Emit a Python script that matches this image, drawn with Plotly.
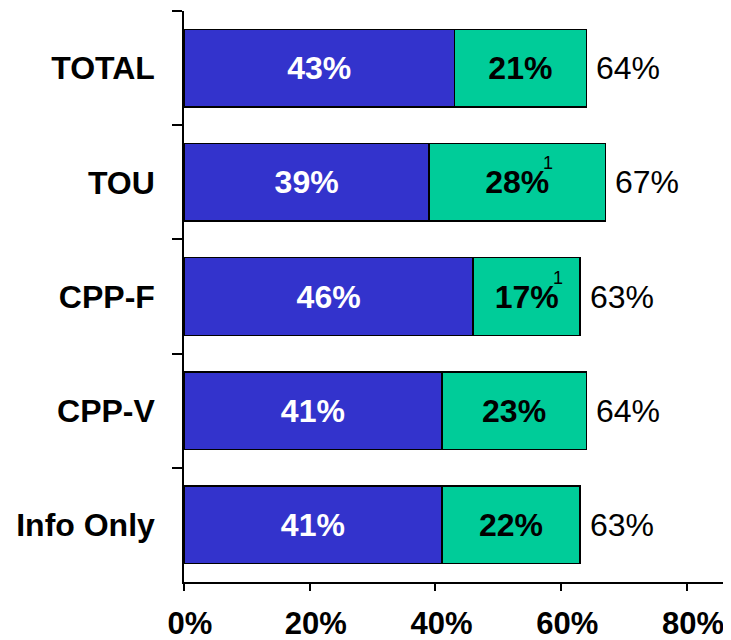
import plotly.graph_objects as go

categories = ["TOTAL", "TOU", "CPP-F", "CPP-V", "Info Only"]
blue_vals = [43, 39, 46, 41, 41]
green_vals = [21, 28, 17, 23, 22]
totals = [64, 67, 63, 64, 63]
footnotes = ["", "1", "1", "", ""]
x_ticks = [0, 20, 40, 60, 80]
x_tick_labels = ["0%", "20%", "40%", "60%", "80%"]

FONT = "Liberation Sans, Arial, sans-serif"
BLUE = "#3333CC"
GREEN = "#00CC99"

fig = go.Figure()
fig.add_trace(go.Bar(
    y=categories, x=blue_vals, orientation="h",
    marker=dict(color=BLUE, line=dict(color="black", width=1.5)),
    text=[f"{v}%" for v in blue_vals], textposition="inside",
    insidetextanchor="middle", constraintext="none",
    textfont=dict(family=FONT, size=32, color="white", weight="bold"),
    hoverinfo="skip",
))
fig.add_trace(go.Bar(
    y=categories, x=green_vals, orientation="h",
    marker=dict(color=GREEN, line=dict(color="black", width=1.5)),
    text=[f"{v}%" for v in green_vals], textposition="inside",
    insidetextanchor="middle", constraintext="none",
    textfont=dict(family=FONT, size=32, color="black", weight="bold"),
    hoverinfo="skip",
))

for c, b, g, t, f in zip(categories, blue_vals, green_vals, totals, footnotes):
    fig.add_annotation(
        x=t, y=c, xref="x", yref="y", text=f"{t}%", showarrow=False,
        xanchor="left", yanchor="middle", xshift=8,
        font=dict(family=FONT, size=32, color="black"),
    )
    if f:
        fig.add_annotation(
            x=b + g / 2, y=c, xref="x", yref="y", text=f, showarrow=False,
            xanchor="center", yanchor="middle", xshift=31, yshift=19,
            font=dict(family=FONT, size=18, color="black"),
        )

# the page body has an 8px margin, so the figure is drawn 8px in from the corner
fig.update_layout(
    template="none",
    barmode="stack", bargap=0.32,
    width=723, height=632,
    margin=dict(l=176, r=0, t=3, b=58, pad=0),
    paper_bgcolor="white", plot_bgcolor="white",
    showlegend=False,
    uniformtext=dict(mode=False),
)
fig.update_xaxes(
    range=[0, 87], tickvals=x_ticks, ticktext=x_tick_labels,
    showline=True, linecolor="black", linewidth=1.5,
    ticks="outside", ticklen=7, tickwidth=1.5, tickcolor="black",
    showgrid=False, zeroline=False, automargin=False,
    tickfont=dict(family=FONT, size=31, color="black", weight="bold"),
    ticklabelstandoff=6, ticklabelshift=6,
)
fig.update_yaxes(
    categoryorder="array", categoryarray=categories, autorange="reversed",
    showline=True, linecolor="black", linewidth=1.5,
    ticks="outside", ticklen=10, tickwidth=1.5, tickcolor="black",
    tickson="boundaries", showgrid=False, zeroline=False, automargin=False,
    tickfont=dict(family=FONT, size=32, color="black", weight="bold"),
    ticklabelstandoff=21,
)

fig.write_html("out.html")
